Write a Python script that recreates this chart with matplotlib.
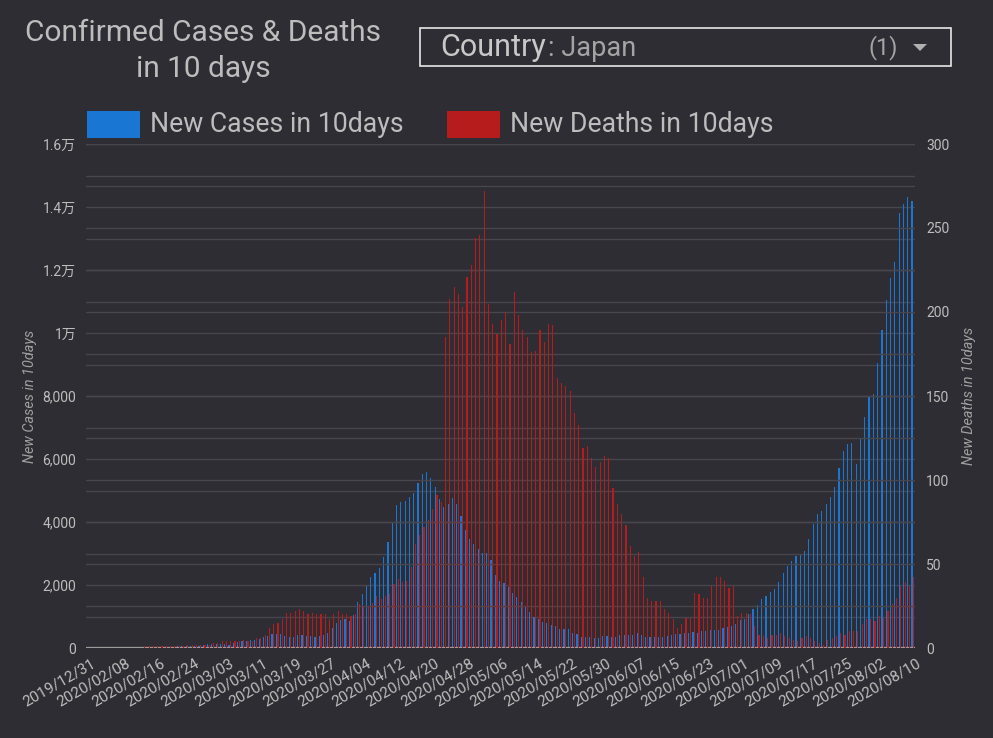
import numpy as np
import pandas as pd
import matplotlib
matplotlib.use('Agg')
import matplotlib.pyplot as plt
import matplotlib.transforms as mtransforms
from matplotlib.patches import Rectangle, Polygon
from matplotlib.ticker import FuncFormatter, MultipleLocator

plt.rcParams['font.family'] = ['Roboto', 'Noto Sans CJK JP', 'DejaVu Sans']

# categories: first row of the source is 2019/12/31, then daily from 2020/02/01
dates = ['2019/12/31'] + list(pd.date_range('2020-02-01', '2020-08-10').strftime('%Y/%m/%d'))

new_cases_10d = [
    0, 10, 10, 8, 6, 5, 5, 4, 3, 3, 3, 4, 6, 10, 15, 20, 24, 26, 28, 32,
    42, 53, 53, 74, 74, 74, 74, 106, 138, 138, 138, 138, 138, 110, 159, 180, 212, 233, 265, 265,
    296, 349, 375, 440, 435, 435, 380, 335, 360, 410, 410, 380, 380, 360, 380, 410, 490, 625, 783, 890,
    920, 857, 1048, 1450, 1714, 1979, 2265, 2370, 2530, 2878, 3376, 4011, 4540, 4625, 4667, 4805, 4911, 5228, 5514, 5578,
    5387, 5101, 4731, 4487, 4572, 4752, 4561, 4191, 3746, 3461, 3302, 3133, 3006, 3027, 2794, 2318, 2127, 2053, 1947, 1735,
    1630, 1471, 1312, 1153, 995, 910, 836, 783, 730, 698, 593, 593, 593, 466, 445, 360, 360, 335, 307, 307,
    380, 380, 335, 360, 410, 410, 410, 410, 466, 410, 360, 360, 360, 360, 335, 380, 410, 445, 445, 466,
    490, 512, 466, 535, 540, 571, 571, 571, 625, 677, 698, 762, 889, 921, 1080, 1228, 1365, 1545, 1651, 1767,
    1873, 2106, 2370, 2604, 2762, 2921, 2953, 3080, 3461, 3937, 4255, 4350, 4572, 4784, 5122, 5704, 6255, 6477, 6498, 5842,
    6657, 7345, 8001, 8054, 9038, 10097, 11049, 11758, 12266, 13822, 14097, 14309, 14192,
]

new_deaths_10d = [
    0, 0, 0, 0, 0, 0, 0, 0, 0, 0, 0, 0, 0, 1, 1, 1, 1, 1, 1, 1,
    1, 1, 1, 2, 2, 2, 2, 2, 2, 3, 3, 4, 4, 4, 4, 4, 5, 4, 4, 6,
    6, 8, 12, 14, 15, 17, 21, 21, 22, 23, 22, 20, 21, 20, 20, 20, 17, 20, 22, 20,
    20, 19, 20, 26, 25, 25, 27, 31, 29, 31, 32, 38, 41, 39, 40, 48, 62, 67, 72, 76,
    83, 91, 87, 185, 208, 215, 211, 203, 221, 228, 244, 246, 272, 205, 193, 187, 195, 200, 181, 212,
    198, 189, 185, 176, 177, 189, 182, 193, 192, 161, 158, 156, 153, 140, 133, 119, 120, 113, 108, 111,
    114, 113, 95, 86, 80, 73, 61, 55, 57, 42, 30, 28, 28, 28, 23, 21, 17, 12, 14, 18,
    18, 33, 32, 30, 30, 37, 42, 42, 40, 36, 37, 19, 21, 21, 20, 13, 8, 7, 6, 8,
    8, 9, 7, 6, 5, 4, 6, 7, 6, 4, 3, 2, 5, 6, 7, 9, 8, 10, 10, 10,
    14, 17, 17, 16, 19, 18, 22, 26, 30, 37, 39, 37, 42,
]

bg = '#2e2d33'
txt = '#bdbdbd'
grid_c = '#47464c'
blue = '#1976d2'
red = '#b71c1c'

W, H = 993, 738
fig = plt.figure(figsize=(W / 100, H / 100), dpi=100, facecolor=bg)


def fx(px):
    return px / W


def fy(py):
    return 1 - py / H


ax = fig.add_axes([fx(86), fy(648), fx(915) - fx(86), fy(144) - fy(648)])
ax.set_facecolor(bg)
ax2 = ax.twinx()
ax2.patch.set_visible(False)

x = np.arange(len(dates))
ax.bar(x - 0.2, new_cases_10d, width=0.27, color=blue, linewidth=0, zorder=3)
ax2.bar(x + 0.2, new_deaths_10d, width=0.27, color=red, linewidth=0, zorder=3)

ax.set_xlim(-0.5, len(dates) - 0.5)
ax.set_ylim(0, 16000)
ax2.set_ylim(0, 300)

ax.yaxis.set_major_locator(MultipleLocator(2000))
ax.yaxis.set_minor_locator(MultipleLocator(1000))
ax2.yaxis.set_major_locator(MultipleLocator(50))
ax2.yaxis.set_minor_locator(MultipleLocator(25))


def man_fmt(v, pos):
    if v >= 10000:
        return f'{v / 10000:g}万'
    return f'{v:,.0f}'


ax.yaxis.set_major_formatter(FuncFormatter(man_fmt))

for a in (ax, ax2):
    a.grid(True, which='both', axis='y', color=grid_c, linewidth=1)
    a.set_axisbelow(True)
    for s in a.spines.values():
        s.set_visible(False)
    a.tick_params(axis='both', which='both', length=0, colors=txt, labelsize=10)
ax.tick_params(axis='y', pad=7)
ax2.tick_params(axis='y', pad=8)
ax.axhline(0, color='#b0b0b0', linewidth=1.6, zorder=5)

ticks = x[::8]
ax.set_xticks(ticks)
ax.set_xticklabels([dates[i] for i in ticks], rotation=30, ha='right',
                   rotation_mode='anchor', fontsize=11, color=txt)
ax.tick_params(axis='x', pad=6)
# nudge the rotated date labels a few pixels right, as in the original
shift = mtransforms.ScaledTranslation(3 / 100, 0, fig.dpi_scale_trans)
for lbl in ax.get_xticklabels():
    lbl.set_transform(lbl.get_transform() + shift)

ax.set_ylabel('New Cases in 10days', color='#a0a0a0', fontsize=10.4,
              fontstyle='italic', labelpad=4)
ax2.set_ylabel('New Deaths in 10days', color='#a0a0a0', fontsize=10.4,
               fontstyle='italic', labelpad=9)

# title
fig.text(fx(203), fy(51), 'Confirmed Cases & Deaths\nin 10 days', ha='center', va='center',
         fontsize=21.5, color=txt, linespacing=1.4)

# country selector box
fig.patches.append(Rectangle((fx(420), fy(66)), fx(951) - fx(420), fy(28) - fy(66),
                             transform=fig.transFigure, fill=False, edgecolor='#e8e8e8', linewidth=1.2))
fig.text(fx(440), fy(48), 'Country', ha='left', va='center', fontsize=22, color='#c8c8c8')
fig.text(fx(548), fy(48), ': Japan', ha='left', va='center', fontsize=19.5, color='#a4a4a4')
fig.text(fx(869), fy(48), '(1)', ha='left', va='center', fontsize=17, color='#a4a4a4')
fig.patches.append(Polygon([(fx(913), fy(44)), (fx(927), fy(44)), (fx(920), fy(51))],
                           closed=True, transform=fig.transFigure, facecolor='#b0b0b0', edgecolor='none'))

# legend
for x0, col, label in [(87, blue, 'New Cases in 10days'), (447, red, 'New Deaths in 10days')]:
    fig.patches.append(Rectangle((fx(x0), fy(138)), fx(53), fy(111) - fy(138),
                                 transform=fig.transFigure, facecolor=col, edgecolor='none'))
    fig.text(fx(x0 + 63), fy(125), label, ha='left', va='center', fontsize=19.2, color=txt)

fig.savefig('out.png', dpi=100, facecolor=bg)
